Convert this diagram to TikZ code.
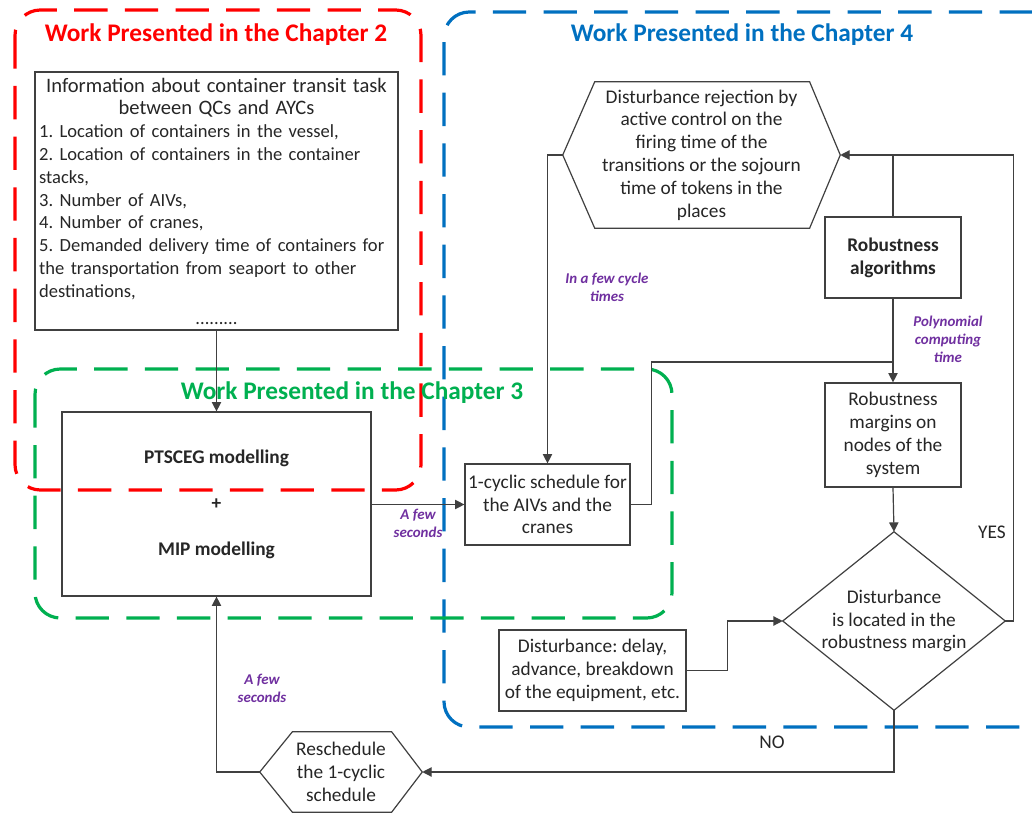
\documentclass[tikz,border=0pt]{standalone}
\usepackage{fontspec}
\setmainfont{Carlito}
\usetikzlibrary{arrows.meta,shapes.geometric,calc}
\definecolor{cred}{RGB}{255,0,0}
\definecolor{cblue}{RGB}{0,112,192}
\definecolor{cgreen}{RGB}{0,176,80}
\definecolor{cpurple}{RGB}{112,48,160}
\definecolor{cline}{RGB}{64,64,64}
\definecolor{ctext}{RGB}{38,38,38}
\frenchspacing
\begin{document}
\begin{tikzpicture}[x=0.75pt,y=-0.75pt,
  sz/.style 2 args={minimum width={#1*0.75pt},minimum height={#2*0.75pt}},
  txt/.style={font=\fontsize{14.5}{17.1}\selectfont, text=ctext},
  boxnode/.style={txt, draw=cline, line width=0.9pt, inner sep=2pt, align=center},
  plain/.style={txt, inner sep=0pt, align=center},
  grp/.style={line width=2.4pt, dash pattern=on 25pt off 13pt, rounded corners=19pt},
  arr/.style={draw=cline, line width=0.9pt, -{Triangle[length=7pt,width=7pt]}},
  ln/.style={draw=cline, line width=0.9pt},
  lab/.style={text=cpurple, font=\fontsize{11.2}{13.5}\selectfont\bfseries\itshape, align=center, inner sep=0pt},
  ttl/.style={font=\fontsize{19}{22}\selectfont\bfseries, inner sep=0pt}
]
\fill[white] (0,0) rectangle (1032,813);
\clip (0,0) rectangle (1032,813);

% group frames
\draw[grp, cred] (15,10) rectangle (421,490);
\draw[grp, cblue] (1070,727) -- (444,727) -- (444,12) -- (1070,12);
\draw[grp, cgreen] (35,369) rectangle (672,618);

% titles
\node[ttl, text=cred] (t2) at (216,35) {Work Presented in the Chapter 2};
\node[ttl, text=cblue] (t4) at (742,35) {Work Presented in the Chapter 4};
\node[ttl, text=cgreen] (t3) at (352,393) {Work Presented in the Chapter 3};

% nodes
\node[txt, draw=cline, line width=0.9pt, sz={363}{258}, inner xsep=1pt, inner ysep=0pt, text width=270pt] (info) at (216.5,201)
{\centering\fontsize{15.4}{17.1}\selectfont Information about container transit task\\between QCs and AYCs\par
\fontsize{13.9}{17.1}\selectfont
\raggedright\hspace*{2pt}1. Location of containers in the vessel,\\
\hspace*{2pt}2. Location of containers in the container\\\hspace*{2pt}stacks,\\
\hspace*{2pt}3. Number of AIVs,\\
\hspace*{2pt}4. Number of cranes,\\
\hspace*{2pt}5. Demanded delivery time of containers for\\\hspace*{2pt}the transportation from seaport to other\\\hspace*{2pt}destinations,\par
\vspace{3pt}\centering .........\par};

\node[boxnode, sz={309}{184}] (model) at (216.5,504)
{\textbf{PTSCEG modelling}\\[17.4pt]\textbf{+}\\[17.4pt]\textbf{MIP modelling}};

\node[boxnode, sz={165}{81}] (cyc) at (547.5,504.5)
{1-cyclic schedule for\\the AIVs and the\\cranes};

\node[plain, sz={277}{146}] (hex) at (701.5,155)
{Disturbance rejection by\\active control on the\\firing time of the\\transitions or the sojourn\\time of tokens in the\\places};
\draw[ln] (hex.west) -- ([xshift=24pt]hex.north west) -- ([xshift=-23pt]hex.north east)
  -- (hex.east) -- ([xshift=-23pt]hex.south east) -- ([xshift=24pt]hex.south west) -- cycle;

\node[boxnode, sz={136}{81}, font=\fontsize{14.5}{17.1}\selectfont\bfseries] (alg) at (893,257.5)
{Robustness\\algorithms};

\node[boxnode, sz={136}{104}] (marg) at (893,435)
{Robustness\\margins on\\nodes of the\\system};

\node[plain, sz={222}{178}] (dia) at (894,621)
{Disturbance\\is located in the\\robustness margin};
\draw[ln] (dia.north) -- (dia.east) -- (dia.south) -- (dia.west) -- cycle;

\node[boxnode, sz={187}{81}] (dist) at (592.5,670.5)
{Disturbance: delay,\\advance, breakdown\\of the equipment, etc.};

\node[plain, sz={162}{80}] (resch) at (341,772)
{Reschedule\\the 1-cyclic\\schedule};
\draw[ln] (resch.west) -- ([xshift=24.5pt]resch.north west) -- ([xshift=-23pt]resch.north east)
  -- (resch.east) -- ([xshift=-23pt]resch.south east) -- ([xshift=24.5pt]resch.south west) -- cycle;

% connectors
\coordinate (j1) at (893,362);
\draw[arr] (info.south) -- (model.north);
\draw[arr] (model.east |- cyc.west) -- (cyc.west);
\draw[arr] (cyc.east) -- ++(21,0) |- (j1) -- (marg.north);
\draw[ln] (alg.south) -- (j1);
\draw[arr] (marg.south) -- (dia.north);
\draw[arr] (dist.east) -- ++(41,0) |- (dia.west);
\draw[arr] (dia.east) -- ++(8,0) |- (hex.east);
\draw[ln] (alg.north) -- (alg.north |- hex.east);
\draw[arr] (hex.west) -| (cyc.north);
\draw[arr] (dia.south) |- (resch.east);
\draw[arr] (resch.west) -| (model.south);

% labels
\node[lab] (l1) at (418,523) {A few\\seconds};
\node[lab] (l2) at (607,287) {In a few cycle\\times};
\node[lab] (l3) at (948,339) {Polynomial\\computing\\time};
\node[lab] (l4) at (262,688) {A few\\seconds};
\node[txt, inner sep=0pt] (yes) at (992,532) {YES};
\node[txt, inner sep=0pt] (no) at (772,742) {NO};
\end{tikzpicture}
\end{document}
